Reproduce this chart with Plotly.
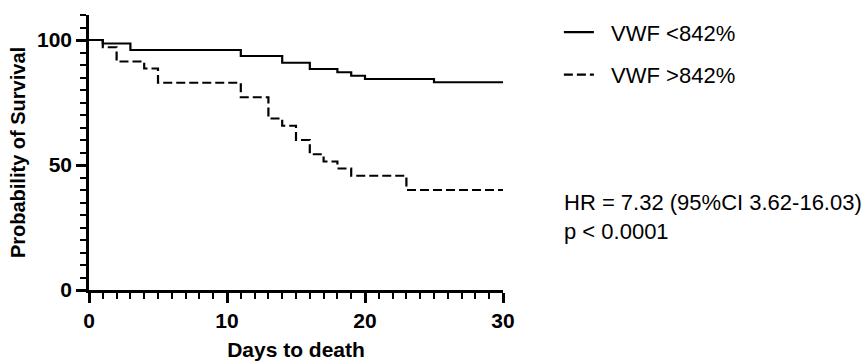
import plotly.graph_objects as go

# Kaplan-Meier step data (days, survival %)
low_days = [0, 1, 3, 11, 14, 16, 18, 19, 20, 25, 30]
low_surv = [100, 98.6, 96.0, 93.6, 90.9, 88.4, 87.1, 85.7, 84.4, 83.1, 83.1]

high_days = [0, 1, 2, 4, 5, 11, 13, 14, 15, 16, 17, 18, 19, 23, 30]
high_surv = [100, 97.1, 91.4, 88.6, 82.9, 77.1, 68.6, 65.7, 60.0, 54.3, 51.4, 48.6, 45.7, 40.0, 40.0]

series_names = ["VWF <842%", "VWF >842%"]
x_ticks = [0, 10, 20, 30]
y_ticks = [0, 50, 100]
stats_text = "HR = 7.32 (95%CI 3.62-16.03)<br>p < 0.0001"

FONT = "Liberation Sans, Arial, Helvetica, sans-serif"
PAD = "\u00a0\u00a0"

fig = go.Figure()
fig.add_trace(go.Scatter(x=low_days, y=low_surv, mode="lines", name=PAD + series_names[0],
                         line=dict(shape="hv", color="black", width=2.2),
                         legendgroup="a"))
fig.add_trace(go.Scatter(x=high_days, y=high_surv, mode="lines", name=PAD + series_names[1],
                         line=dict(shape="hv", color="black", width=2.2, dash="9px,4px"),
                         legendgroup="b"))

fig.update_layout(
    width=868, height=361,
    margin=dict(l=89, r=365, t=14, b=71),
    paper_bgcolor="white", plot_bgcolor="white",
    font=dict(family=FONT, color="black"),
    showlegend=True,
    legend=dict(x=1.135, y=1.01, xanchor="left", yanchor="top",
                font=dict(size=22, family=FONT, color="black"),
                itemwidth=30, tracegroupgap=11, bgcolor="rgba(0,0,0,0)"),
    xaxis=dict(range=[0, 30], tickmode="linear", tick0=x_ticks[0], dtick=x_ticks[1] - x_ticks[0],
               showgrid=False, zeroline=False, automargin=False,
               showline=True, linecolor="black", linewidth=2.6,
               ticks="outside", ticklen=10, tickwidth=2.6, tickcolor="black",
               tickfont=dict(size=21, family=FONT, color="black", weight="bold"),
               minor=dict(tickmode="linear", tick0=0, dtick=1, ticks="outside", ticklen=6,
                          tickwidth=2.2, tickcolor="black", showgrid=False),
               title=dict(text="<b>Days to death</b>", font=dict(size=21, family=FONT), standoff=12)),
    yaxis=dict(range=[0, 110], tickmode="linear", tick0=y_ticks[0], dtick=y_ticks[1] - y_ticks[0],
               showgrid=False, zeroline=False, automargin=False,
               showline=True, linecolor="black", linewidth=2.6,
               ticks="outside", ticklen=10, tickwidth=2.6, tickcolor="black",
               tickfont=dict(size=21, family=FONT, color="black", weight="bold"),
               minor=dict(tickmode="linear", tick0=0, dtick=5, ticks="outside", ticklen=6,
                          tickwidth=2.2, tickcolor="black", showgrid=False),
               title=dict(text="<b>Probability of Survival</b>", font=dict(size=20, family=FONT), standoff=6)),
)

fig.add_annotation(text=stats_text, xref="paper", yref="paper", x=1.142, y=0.265,
                   xanchor="left", yanchor="middle", align="left", showarrow=False,
                   font=dict(size=22, family=FONT, color="black"))

fig.write_html("out.html")
